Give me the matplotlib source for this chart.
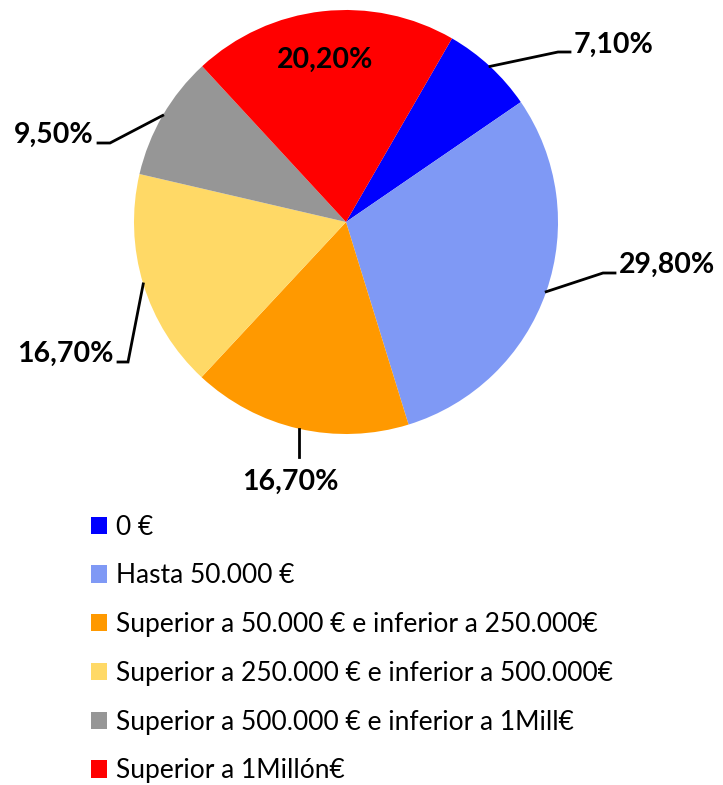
import numpy as np
import matplotlib.pyplot as plt
from matplotlib.patches import Patch

categories = [
    "0 €",
    "Hasta 50.000 €",
    "Superior a 50.000 € e inferior a 250.000€",
    "Superior a 250.000 € e inferior a 500.000€",
    "Superior a 500.000 € e inferior a 1Mill€",
    "Superior a 1Millón€",
]
values = [7.1, 29.8, 16.7, 16.7, 9.5, 20.2]
value_labels = ["7,10%", "29,80%", "16,70%", "16,70%", "9,50%", "20,20%"]
colors = ["#0000FF", "#7F99F5", "#FF9900", "#FFD966", "#969696", "#FF0000"]

plt.rcParams["font.family"] = ["Lato", "DejaVu Sans"]

W, H = 723, 785
fig = plt.figure(figsize=(W / 100, H / 100), dpi=100)
ax = fig.add_axes([0, 0, 1, 1])

cx, cy, R = 346, H - 222, 212
wedges, _ = ax.pie(values, colors=colors, startangle=60, counterclock=False,
                   center=(cx, cy), radius=R, frame=True,
                   wedgeprops=dict(linewidth=0))
ax.set_xlim(0, W)
ax.set_ylim(0, H)
ax.set_aspect("equal")
ax.axis("off")

# leader layout per slice: (knee dx, knee dy, end dx, text dx, text dy, ha) relative to center
layout = [
    (212, 170, 224, 228, 177, "left"),
    (257, -51, 269, 273, -43, "left"),
    None,
    (-218, -140, -228, -232, -132, "right"),
    (-236, 79, -248, -252, 87, "right"),
    None,
]
lab_fs = 20.5

for i, w in enumerate(wedges):
    mid = np.deg2rad((w.theta1 + w.theta2) / 2)
    ex, ey = cx + R * np.cos(mid), cy + R * np.sin(mid)
    lay = layout[i]
    if i == 5:
        r = 0.77 * R
        ax.text(cx + r * np.cos(mid) - 3, cy + r * np.sin(mid), value_labels[i],
                ha="center", va="center", fontsize=lab_fs, fontweight="bold")
    elif i == 2:
        ax.plot([ex, ex], [ey, ey - 28], color="black", lw=2)
        ax.text(ex - 8, ey - 53, value_labels[i], ha="center", va="center",
                fontsize=lab_fs, fontweight="bold")
    else:
        kx, ky, endx, tx, ty, ha = lay
        ax.plot([ex, cx + kx, cx + endx], [ey, cy + ky, cy + ky],
                color="black", lw=2, solid_joinstyle="miter")
        ax.text(cx + tx, cy + ty, value_labels[i], ha=ha, va="center",
                fontsize=lab_fs, fontweight="bold")

handles = [Patch(facecolor=c, edgecolor="none") for c in colors]
fig.legend(handles, categories, loc="upper left",
           bbox_to_anchor=(80 / W, 1 - 504 / H), frameon=False,
           fontsize=19, handlelength=0.62, handleheight=0.62,
           handletextpad=0.35, labelspacing=0.9, borderaxespad=0)

fig.savefig("out.png", dpi=100)
